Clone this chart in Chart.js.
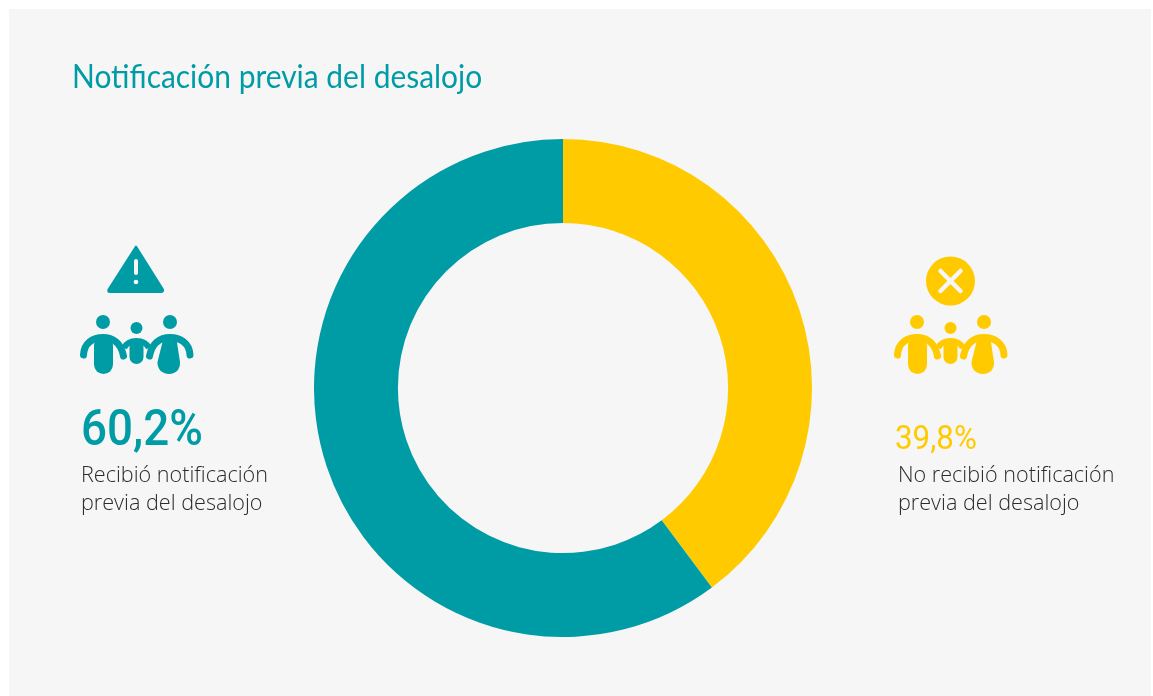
<!DOCTYPE html>
<html lang="es">
<head>
<meta charset="utf-8">
<title>Notificación previa del desalojo</title>
<script src="https://cdn.jsdelivr.net/npm/chart.js@4"></script>
<style>
html,body{margin:0;padding:0;background:#fff;width:1153px;height:696px;overflow:hidden}
#panel{position:absolute;left:9px;top:9px;width:1142px;height:687px;background:#f6f6f6}
#wrap{position:absolute;left:314px;top:139px;width:498px;height:498px}
.t{position:absolute;white-space:nowrap;margin:0;transform-origin:0 0}
#title{left:72px;top:54px;font:400 33px/42px Lato,sans-serif;color:#009ca6;transform:scaleX(.907)}
.val{font-family:Roboto,sans-serif}
#vA{left:81px;top:399px;font-size:50px;line-height:58px;font-weight:500;color:#009ca6;transform:scaleX(.915)}
#vB{left:895px;top:417px;font-size:34px;line-height:40px;font-weight:400;color:#ffcb00;transform:scaleX(.92)}
.desc{font:300 21.6px/28px "Open Sans",sans-serif;color:#2b2b2b;white-space:pre-line}
#dA{left:81px;top:460px}
#dB{left:898px;top:460px}
svg{position:absolute;left:0;top:0}
</style>
</head>
<body>
<div id="panel"></div>
<div id="wrap"><canvas id="c" width="498" height="498"></canvas></div>
<svg width="1153" height="696" viewBox="0 0 1153 696">
<defs>
<g id="family">
<circle cx="103" cy="322" r="7"/><circle cx="136.500" cy="328" r="6"/><circle cx="170" cy="322" r="7"/>
<path d="M83.500 355C84 343 93 337.500 103 337.500C113 337.500 121 343 123.500 356" fill="none" stroke="currentColor" stroke-width="7" stroke-linecap="round"/>
<path d="M190 355C189.500 343 180 337.500 170 337.500C160 337.500 152 343 149.500 356" fill="none" stroke="currentColor" stroke-width="7" stroke-linecap="round"/>
<path d="M124 348C127 342 132 341 136.500 341C141 341 146 342 149 348" fill="none" stroke="currentColor" stroke-width="6"/>
<rect x="94" y="336" width="19" height="38" rx="9.500"/>
<path d="M164 336H176L180 362C180.500 369 176 374 169 374C162 374 157 369 157.500 362Z"/>
<rect x="129.500" y="340" width="14" height="24" rx="7"/>
</g>
</defs>
<g style="color:#009ca6" fill="#009ca6">
<path d="M136 246.500L163 289.500Q163.500 292 161 292H110Q107.500 292 108.500 289.500Z" stroke="#009ca6" stroke-width="2" stroke-linejoin="round"/>
<rect x="134" y="259" width="4" height="16" rx="2" fill="#f6f6f6"/>
<circle cx="136" cy="282" r="2.300" fill="#f6f6f6"/>
<use href="#family"/>
</g>
<g style="color:#ffcb00" fill="#ffcb00">
<circle cx="950.500" cy="281" r="24.500"/>
<path d="M940.500 271L960.500 291M960.500 271L940.500 291" stroke="#f6f6f6" stroke-width="4.500" stroke-linecap="round"/>
<use href="#family" x="814"/>
</g>
</svg>
<h1 class="t" id="title"></h1>
<div class="t val" id="vA"></div>
<div class="t val" id="vB"></div>
<div class="t desc" id="dA"></div>
<div class="t desc" id="dB"></div>
<script>
const chartTitle = "Notificación previa del desalojo";
const categories = ["No recibió notificación previa del desalojo", "Recibió notificación previa del desalojo"];
const seriesValues = [39.8, 60.2];
const seriesColors = ["#ffcb00", "#009ca6"];
const valueLabels = ["39,8%", "60,2%"];

document.getElementById("title").textContent = chartTitle;
document.getElementById("vB").textContent = valueLabels[0];
document.getElementById("vA").textContent = valueLabels[1];
document.getElementById("dB").textContent = "No recibió notificación\nprevia del desalojo";
document.getElementById("dA").textContent = "Recibió notificación\nprevia del desalojo";

new Chart(document.getElementById("c"), {
  type: "doughnut",
  data: {
    labels: categories,
    datasets: [{ data: seriesValues, backgroundColor: seriesColors, borderWidth: 0 }]
  },
  options: {
    responsive: false,
    animation: false,
    cutout: "66.3%",
    layout: { padding: 0 },
    plugins: { legend: { display: false }, tooltip: { enabled: false } }
  }
});
</script>
</body>
</html>
